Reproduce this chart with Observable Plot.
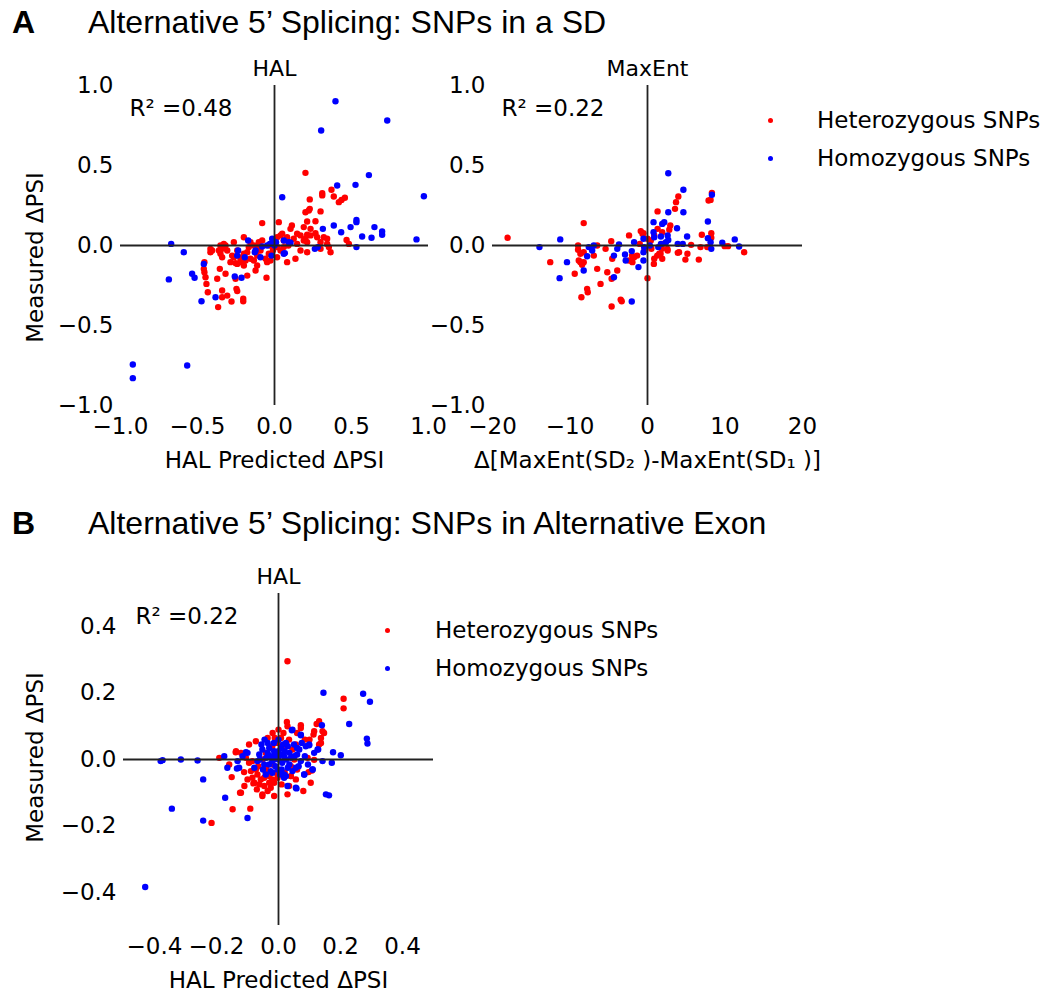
<!DOCTYPE html>
<html>
<head>
<meta charset="utf-8">
<script src="https://cdn.jsdelivr.net/npm/d3@7"></script>
<script src="https://cdn.jsdelivr.net/npm/@observablehq/plot@0.6"></script>
<style>
  body { margin: 0; background: #fff; }
  #root { position: relative; width: 1064px; height: 995px; overflow: hidden; background: #fff; }
  .panel { position: absolute; }
  .ttl { position: absolute; font-family: "Liberation Sans", Arial, sans-serif; font-size: 32px; line-height: 1; color: #000; white-space: nowrap; }
  .ttl b { font-weight: bold; }
  .leg { position: absolute; height: 30px; display: flex; align-items: center; font-family: "DejaVu Sans", sans-serif; font-size: 23px; color: #000; white-space: nowrap; }
  .leg .dot { width: 5px; height: 5px; border-radius: 50%; display: inline-block; }
</style>
</head>
<body>
<div id="root">
  <div class="ttl" style="left:12px; top:6px;"><b>A</b></div>
  <div class="ttl" style="left:88px; top:6px;">Alternative 5’ Splicing: SNPs in a SD</div>
  <div class="ttl" style="left:12px; top:507px;"><b>B</b></div>
  <div class="ttl" style="left:88px; top:507px;">Alternative 5’ Splicing: SNPs in Alternative Exon</div>

  <div class="leg" style="left:768px; top:105px;"><span class="dot" style="background:#ff0000"></span><span style="margin-left:44px">Heterozygous SNPs</span></div>
  <div class="leg" style="left:768px; top:143px;"><span class="dot" style="background:#0000ff"></span><span style="margin-left:44px">Homozygous SNPs</span></div>
  <div class="leg" style="left:385px; top:615px;"><span class="dot" style="background:#ff0000"></span><span style="margin-left:45px">Heterozygous SNPs</span></div>
  <div class="leg" style="left:385px; top:653px;"><span class="dot" style="background:#0000ff"></span><span style="margin-left:45px">Homozygous SNPs</span></div>

  <div id="pA1" class="panel" style="left:0px; top:40px;"></div>
  <div id="pA2" class="panel" style="left:430px; top:40px;"></div>
  <div id="pB" class="panel" style="left:0px; top:540px;"></div>
</div>
<script>
// ---------- Panel A, HAL: [HAL predicted dPSI, measured dPSI] ----------
const halHet = [
  [0.201,0.454],[0.370,0.348],[0.310,0.327],[0.310,0.313],[0.385,0.306],[0.457,0.298],[0.435,0.285],[0.418,0.271],
  [0.229,0.288],[0.229,0.229],[0.201,0.208],[0.223,0.219],[0.299,0.213],[0.266,0.152],[0.212,0.150],[0.234,0.104],
  [0.190,0.115],[0.113,0.125],[0.104,0.104],[0.028,0.146],[-0.080,0.140],[0.147,0.073],[0.169,0.063],[0.212,0.067],
  [0.266,0.077],[0.277,0.052],[0.320,0.052],[0.342,0.042],[0.342,0.010],[0.364,-0.042],[0.353,-0.010],[0.468,0.035],
  [0.483,0.010],[0.299,0.021],[0.190,0.031],[0.212,-0.042],[0.136,-0.083],[0.082,-0.104],[0.050,0.073],[0.017,0.052],
  [0.082,0.052],[0.147,0.010],[0.039,-0.031],[0.017,-0.073],[-0.026,-0.094],[-0.048,-0.104],[-0.113,-0.063],[-0.134,-0.094],
  [-0.113,-0.125],[-0.123,-0.156],[-0.052,-0.202],[-0.080,0.031],[-0.102,-0.010],[-0.134,0.000],[-0.199,0.052],[-0.167,-0.010],
  [-0.199,-0.052],[-0.188,-0.094],[-0.221,-0.104],[-0.253,-0.110],[-0.286,-0.104],[-0.275,-0.063],[-0.329,0.010],[-0.340,-0.021],
  [-0.351,-0.052],[-0.307,-0.031],[-0.416,-0.021],[-0.416,-0.042],[-0.361,-0.031],[-0.340,-0.073],[-0.355,-0.146],[-0.318,-0.177],
  [-0.372,-0.208],[-0.455,-0.104],[-0.459,-0.146],[-0.455,-0.167],[-0.448,-0.198],[-0.442,-0.240],[-0.433,-0.292],[-0.340,-0.281],
  [-0.340,-0.323],[-0.366,-0.385],[-0.307,-0.313],[-0.279,-0.350],[-0.247,-0.271],[-0.242,-0.285],[-0.203,-0.333],[-0.203,-0.348],
  [-0.242,-0.115],[-0.210,-0.073],[0.039,0.063],[0.060,0.031],[0.125,0.042],[0.201,0.042],[0.234,0.063],[0.212,0.021],
  [0.299,-0.021],[0.169,-0.031],[-0.037,-0.052],[-0.058,-0.083],[-0.091,-0.031],[-0.102,0.021],[-0.177,-0.042],[-0.156,0.021],
  [-0.264,0.021],[-0.318,0.000],[-0.351,0.000],[-0.405,-0.031],[-0.264,-0.073],[-0.242,-0.031],[-0.221,-0.083],[-0.199,-0.125],
  [-0.156,-0.083],[-0.177,-0.188],[-0.253,-0.208],[0.000,0.020],[0.020,-0.010],[-0.010,-0.030],[0.060,-0.010],[0.090,0.000],[-0.030,0.000]
];
const halHom = [
  [0.396,0.902],[0.732,0.781],[0.303,0.719],[0.970,0.308],[0.613,0.440],[0.407,0.375],[0.526,0.379],[0.050,0.302],
  [0.532,0.160],[0.532,0.146],[0.494,0.115],[0.385,0.125],[0.314,0.104],[0.433,0.083],[0.649,0.115],[0.699,0.088],
  [0.699,0.067],[0.569,0.056],[0.630,0.048],[0.922,0.038],[0.532,-0.010],[0.262,-0.021],[0.281,-0.010],[0.067,-0.048],
  [0.061,0.031],[0.104,0.017],[-0.015,0.042],[-0.026,0.010],[-0.048,0.000],[-0.080,-0.006],[-0.019,-0.063],[-0.091,-0.073],
  [-0.128,-0.042],[-0.171,0.031],[-0.236,-0.031],[-0.242,-0.063],[-0.193,-0.073],[-0.258,-0.194],[-0.214,-0.202],[-0.459,-0.115],
  [-0.535,-0.177],[-0.519,-0.202],[-0.686,-0.212],[-0.589,-0.042],[-0.671,0.010],[-0.474,-0.348],[-0.383,-0.323],[-0.920,-0.744],
  [-0.920,-0.829],[-0.567,-0.750],[-0.123,-0.031],[0.093,0.021],[0.060,-0.052],[-0.030,0.010],[-0.010,0.030],[0.000,0.000],[0.010,0.020]
];
// ---------- Panel A, MaxEnt: [delta MaxEnt score, measured dPSI] ----------
const maxEntHet = [
  [-18.05,0.048],[-12.55,-0.104],[-9.39,-0.177],[-8.23,0.140],[-8.96,0.000],[-8.96,-0.027],[-8.66,-0.052],[-8.66,-0.104],
  [-8.44,-0.121],[-8.23,-0.104],[-6.93,-0.063],[-6.49,-0.146],[-6.06,-0.240],[-7.79,-0.271],[-7.71,-0.292],[-8.53,-0.323],
  [-5.19,-0.167],[-5.41,-0.021],[-6.49,0.000],[-4.68,0.027],[-4.55,-0.083],[-3.90,-0.156],[-4.63,-0.208],[-3.46,-0.338],
  [-3.33,-0.348],[-4.63,-0.381],[-2.38,0.063],[-2.38,-0.094],[-1.95,-0.104],[-1.73,-0.073],[-0.87,0.090],[-0.65,0.073],
  [-0.52,0.077],[0.00,-0.204],[0.00,0.042],[0.43,0.031],[0.87,0.063],[1.30,0.104],[1.30,0.213],[1.95,0.010],
  [1.86,-0.021],[1.52,-0.052],[0.87,-0.083],[2.60,-0.031],[2.94,0.125],[2.81,0.098],[3.55,0.229],[3.68,0.271],
  [3.98,0.306],[3.90,-0.046],[4.89,-0.088],[5.63,0.004],[6.62,-0.088],[7.01,0.067],[7.88,0.281],[8.14,0.285],
  [8.31,0.329],[8.23,0.077],[8.23,0.048],[6.84,-0.010],[7.71,-0.010],[9.96,-0.004],[10.39,-0.004],[12.47,-0.042],
  [-8.23,-0.042],[-8.87,-0.094],[1.90,0.083],[-1.99,-0.063],[-1.34,-0.063],[1.26,-0.063],[1.69,-0.052],[2.56,-0.021],
  [0.82,-0.115],[1.90,-0.083],[5.15,-0.052],[4.07,-0.042],[-0.40,-0.030],[0.50,-0.020],[-1.00,0.010]
];
const maxEntHom = [
  [2.68,0.452],[4.63,0.348],[8.31,0.317],[2.68,0.208],[4.63,0.208],[0.78,0.146],[2.16,0.146],[3.81,0.108],
  [7.79,0.150],[0.78,0.083],[0.87,0.052],[1.73,0.056],[2.60,0.063],[2.68,0.035],[2.38,0.021],[1.73,0.010],
  [1.39,-0.010],[5.11,0.056],[7.79,0.046],[8.14,0.021],[8.23,-0.021],[9.65,0.017],[11.26,0.038],[11.82,-0.006],
  [4.55,0.010],[3.90,0.010],[-0.52,0.042],[-0.43,-0.010],[-0.52,-0.042],[-0.52,-0.094],[-1.17,-0.135],[-1.73,0.021],
  [-2.03,-0.035],[-2.90,-0.056],[-2.81,-0.094],[-4.33,-0.063],[-3.90,-0.021],[-3.68,0.006],[-4.33,-0.198],[-2.03,-0.350],
  [-6.93,0.000],[-7.58,-0.010],[-7.79,-0.067],[-7.14,-0.031],[-8.23,-0.156],[-10.39,-0.104],[-11.34,-0.204],[-11.26,0.038],
  [-13.94,-0.010],[1.90,0.135],[0.30,0.000]
];
// ---------- Panel B, HAL: [HAL predicted dPSI, measured dPSI] ----------
const exonHet = [
  [0.029,0.296],[0.210,0.183],[0.210,0.154],[-0.216,-0.191],[-0.148,-0.150],[-0.091,-0.148],[-0.124,-0.100],[-0.052,-0.110],
  [-0.014,-0.110],[0.034,-0.080],[0.080,-0.095],[-0.151,-0.053],[-0.111,-0.038],[-0.081,-0.072],[-0.138,0.022],[-0.191,0.005],
  [-0.159,-0.015],[0.131,0.115],[0.123,0.107],[0.142,0.085],[0.147,0.080],[0.137,0.050],[0.113,0.075],[0.072,0.103],
  [0.027,0.113],[0.016,0.080],[-0.012,0.065],[0.056,0.045],[0.108,-0.033],[0.097,-0.038],[0.040,-0.050],[-0.009,-0.040],
  [-0.030,-0.050],[-0.046,-0.055],[-0.041,-0.040],[-0.073,-0.030],[-0.084,-0.005],[-0.041,0.020],[-0.019,-0.015],[0.013,0.035],
  [0.034,0.060],[0.051,0.000],[0.040,-0.020],[-0.137,0.025],[-0.121,0.020],[-0.105,0.005],[-0.095,-0.010],[-0.089,-0.035],
  [-0.084,-0.055],[-0.068,-0.045],[-0.057,-0.060],[-0.046,-0.080],[-0.035,-0.095],[-0.025,-0.085],[-0.014,-0.070],[-0.003,-0.055],
  [-0.078,-0.070],[-0.062,-0.075],[-0.052,-0.105],[-0.121,-0.100],[0.029,-0.105],[0.029,0.100],[0.072,0.095],[0.115,0.085],
  [0.137,0.065],[0.131,0.045],[0.008,0.065],[-0.003,0.050],[-0.035,0.065],[-0.019,0.080],[0.115,-0.001],[0.104,-0.070],
  [0.056,-0.060],[0.040,-0.050],[0.094,0.005],[-0.095,0.045],[-0.073,0.055],[-0.052,0.000],
  [-0.065,-0.020],[-0.040,-0.025],[-0.020,-0.060],[0.010,-0.075],[-0.030,-0.070],[0.020,-0.040],[-0.100,-0.060],[-0.070,-0.090],
  [-0.110,-0.080],[0.060,-0.030],[0.085,0.060],[0.100,0.060],[0.060,0.080],[-0.020,0.040],[0.000,0.090],[0.045,0.030]
];
const exonHom = [
  [-0.430,-0.384],[-0.380,-0.005],[-0.374,-0.002],[-0.315,0.000],[-0.261,-0.003],[-0.243,-0.060],[-0.344,-0.148],[-0.243,-0.184],
  [-0.100,-0.176],[-0.172,-0.115],[-0.175,0.010],[-0.165,-0.025],[-0.134,-0.027],[-0.105,0.022],[0.145,0.201],[0.273,0.198],
  [0.295,0.174],[0.228,0.107],[0.285,0.063],[0.287,0.048],[0.140,0.103],[0.176,0.022],[0.201,0.013],[0.172,-0.010],
  [0.163,-0.108],[0.058,-0.087],[0.043,0.088],[0.072,0.073],[0.128,0.030],[0.099,0.043],[0.083,-0.045],[0.110,-0.030],
  [0.018,-0.055],[0.024,-0.050],[-0.035,0.050],[-0.052,0.030],[-0.062,0.015],[-0.068,-0.005],[-0.078,-0.025],[-0.046,-0.015],
  [-0.025,0.010],[-0.014,0.025],[0.008,0.035],[0.018,0.010],[0.035,0.020],[0.051,0.010],[0.067,0.030],[0.072,-0.005],
  [0.056,-0.025],[0.035,-0.015],[0.018,-0.045],[-0.003,-0.030],[-0.025,-0.035],[-0.041,-0.045],[0.088,0.040],[0.099,0.045],
  [0.115,0.020],[0.126,0.030],[0.142,-0.005],[0.083,-0.045],[0.110,-0.030],[0.153,-0.105],[0.056,-0.085],[0.029,-0.080],
  [-0.116,0.010],[-0.100,0.020],[-0.132,-0.005],[-0.127,-0.025],[0.045,0.090],[0.072,0.075],[0.024,0.050],[0.000,0.000],
  [-0.010,0.015],[0.012,-0.010],
  [-0.055,0.045],[-0.045,0.060],[-0.030,0.035],[-0.015,0.050],[0.000,0.060],[0.015,0.045],[0.030,0.040],[0.050,0.045],
  [-0.060,0.000],[-0.040,0.005],[-0.020,-0.005],[0.005,0.015],[0.025,0.000],[0.040,0.005],[0.060,0.015],[0.085,0.010],
  [-0.050,-0.030],[-0.030,-0.015],[-0.010,-0.020],[0.010,-0.030],[0.030,-0.025],[0.045,-0.035],[0.065,-0.020],[0.095,-0.015],
  [-0.015,0.000],[0.000,0.025],[0.020,0.025],[-0.035,0.020],[0.060,0.035],[0.075,0.050],[0.005,-0.045],[-0.020,-0.040]
];

// ---------- ticks, domains, texts ----------
const ticksHalA = [-1, -0.5, 0, 0.5, 1];
const ticksMaxEnt = [-20, -10, 0, 10, 20];
const ticksB = [-0.4, -0.2, 0, 0.2, 0.4];
const r2Labels = ["R² =0.48", "R² =0.22", "R² =0.22"];
const panelTitles = ["HAL", "MaxEnt", "HAL"];
const xLabels = ["HAL Predicted ΔPSI", "Δ[MaxEnt(SD₂ )-MaxEnt(SD₁ )]", "HAL Predicted ΔPSI"];
const yLabel = "Measured ΔPSI";

const f1 = d3.format(".1f");
const f0 = d3.format("d");

function scatter(o) {
  return Plot.plot({
    width: o.width, height: o.height,
    marginLeft: o.ml, marginRight: o.mr, marginTop: o.mt, marginBottom: o.mb,
    style: {fontFamily: "'DejaVu Sans', sans-serif", fontSize: "23px", color: "#000", background: "transparent", overflow: "visible"},
    x: {domain: o.xDomain},
    y: {domain: o.yDomain},
    marks: [
      Plot.dot(o.het, {x: d => d[0], y: d => d[1], r: 3.2, fill: "#ff0000"}),
      Plot.dot(o.hom, {x: d => d[0], y: d => d[1], r: 3.2, fill: "#0000ff"}),
      Plot.ruleY([0], {stroke: "#222", strokeWidth: 1.8}),
      Plot.ruleX([0], {stroke: "#222", strokeWidth: 1.8}),
      Plot.axisX({ticks: o.xTicks, tickFormat: o.xFmt, tickSize: 0, tickPadding: 12, label: null}),
      Plot.axisY({ticks: o.yTicks, tickFormat: o.yFmt, tickSize: 0, tickPadding: 7, label: null}),
      Plot.text([o.title], {text: d => d, frameAnchor: "top", dy: -17, lineAnchor: "middle", fontSize: 22}),
      Plot.text([o.r2], {text: d => d, frameAnchor: "top-left", dx: o.r2dx, dy: 14, textAnchor: "start", lineAnchor: "top"}),
      Plot.text([o.xLabel], {text: d => d, frameAnchor: "bottom", dy: 55, lineAnchor: "middle", textAnchor: "middle"}),
      o.yLabel ? Plot.text([o.yLabel], {text: d => d, frameAnchor: "left", dx: o.ylDx, dy: o.ylDy, rotate: -90, lineAnchor: "middle", textAnchor: "middle"}) : null
    ]
  });
}

document.getElementById("pA1").append(scatter({
  width: 440, height: 440, ml: 120, mr: 12, mt: 45, mb: 75,
  xDomain: [-1, 1], yDomain: [-1, 1], xTicks: ticksHalA, yTicks: ticksHalA, xFmt: f1, yFmt: f1,
  het: halHet, hom: halHom, title: panelTitles[0], r2: r2Labels[0], r2dx: 9,
  xLabel: xLabels[0], yLabel: yLabel, ylDx: -85, ylDy: 12
}));
document.getElementById("pA2").append(scatter({
  width: 380, height: 440, ml: 62, mr: 8, mt: 45, mb: 75,
  xDomain: [-20, 20], yDomain: [-1, 1], xTicks: ticksMaxEnt, yTicks: ticksHalA, xFmt: f0, yFmt: f1,
  het: maxEntHet, hom: maxEntHom, title: panelTitles[1], r2: r2Labels[1], r2dx: 9,
  xLabel: xLabels[1], yLabel: null
}));
document.getElementById("pB").append(scatter({
  width: 445, height: 455, ml: 123, mr: 12, mt: 53, mb: 70,
  xDomain: [-0.5, 0.5], yDomain: [-0.5, 0.5], xTicks: ticksB, yTicks: ticksB, xFmt: f1, yFmt: f1,
  het: exonHet, hom: exonHom, title: panelTitles[2], r2: r2Labels[2], r2dx: 12,
  xLabel: xLabels[2], yLabel: yLabel, ylDx: -88, ylDy: -2
}));
</script>
</body>
</html>
